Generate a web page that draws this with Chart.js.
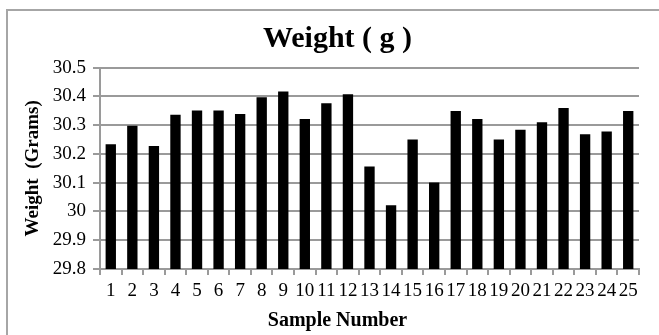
<!DOCTYPE html>
<html>
<head>
<meta charset="utf-8">
<title>Weight ( g )</title>
<script src="https://cdn.jsdelivr.net/npm/chart.js@4"></script>
<style>
    body { margin: 0; background: #fff; }
    #frame { position: absolute; left: 6px; top: 9px; width: 700px; height: 400px; border-left: 2px solid #a6a6a6; border-top: 2px solid #a6a6a6; }
    #weightChart { position: absolute; left: 0; top: 0; }
</style>
</head>
<body>
<div id="frame"></div>
<canvas id="weightChart" width="659" height="335"></canvas>
<script>
// values
const sampleNumbers = ['1', '2', '3', '4', '5', '6', '7', '8', '9', '10', '11', '12', '13',
    '14', '15', '16', '17', '18', '19', '20', '21', '22', '23', '24', '25'];
const weights = [30.234, 30.298, 30.228, 30.336, 30.351, 30.351, 30.339, 30.397, 30.417, 30.322,
    30.376, 30.408, 30.156, 30.022, 30.25, 30.101, 30.349, 30.322, 30.25, 30.284,
    30.31, 30.36, 30.269, 30.278, 30.349];
const yTicks = [29.8, 29.9, 30, 30.1, 30.2, 30.3, 30.4, 30.5];
const yTickLabels = ['29.8', '29.9', '30', '30.1', '30.2', '30.3', '30.4', '30.5'];

const serif = 'Liberation Serif';
const gridColor = '#9a9a9a';

function drawWeightChart() {
    let ctx = document.getElementById('weightChart').getContext('2d');

    let myChart = new Chart(ctx, {
        type: 'bar',
        data: {
            labels: sampleNumbers,
            datasets: [{
                label: 'Weight (Grams)',
                data: weights,
                backgroundColor: '#000000',
                borderWidth: 0,
                barPercentage: 0.48,
                categoryPercentage: 1
            }]
        },
        options: {
            responsive: false,
            animation: false,
            layout: {
                padding: { left: 36, right: 20, top: 0, bottom: 0 }
            },
            plugins: {
                legend: { display: false },
                tooltip: { enabled: false },
                title: {
                    display: true,
                    text: 'Weight ( g )',
                    color: '#000',
                    font: { family: serif, size: 30, weight: 'bold' },
                    padding: { top: 21, bottom: 10.7 }
                },
                // x axis title sits off-centre in the original, so it goes in the bottom subtitle
                subtitle: {
                    display: true,
                    position: 'bottom',
                    text: 'Sample Number',
                    color: '#000',
                    font: { family: serif, size: 20, weight: 'bold' },
                    padding: { top: 0, bottom: 2 }
                }
            },
            scales: {
                x: {
                    grid: {
                        display: true,
                        offset: true,
                        drawOnChartArea: false,
                        color: gridColor,
                        lineWidth: 2,
                        tickLength: 6
                    },
                    border: { color: gridColor, width: 2 },
                    ticks: {
                        color: '#000',
                        font: { family: serif, size: 19 },
                        autoSkip: false,
                        maxRotation: 0,
                        padding: 5
                    },
                    afterFit: function (scale) {
                        scale.height = 40;
                    }
                },
                y: {
                    min: 29.8,
                    max: 30.5,
                    grid: {
                        color: gridColor,
                        lineWidth: 2,
                        tickLength: 7
                    },
                    border: { color: gridColor, width: 2 },
                    ticks: {
                        color: '#000',
                        font: { family: serif, size: 19 },
                        padding: 7,
                        callback: function (value, index) {
                            return yTickLabels[index];
                        }
                    },
                    afterBuildTicks: function (scale) {
                        scale.ticks = yTicks.map(v => ({ value: v }));
                    },
                    title: {
                        display: true,
                        text: 'Weight  (Grams)',
                        color: '#000',
                        font: { family: serif, size: 19, weight: 'bold' },
                        padding: { top: -13.9, bottom: 0 }
                    },
                    afterFit: function (scale) {
                        scale.width = 64;
                    }
                }
            }
        }
    });
}

drawWeightChart();
</script>
</body>
</html>
